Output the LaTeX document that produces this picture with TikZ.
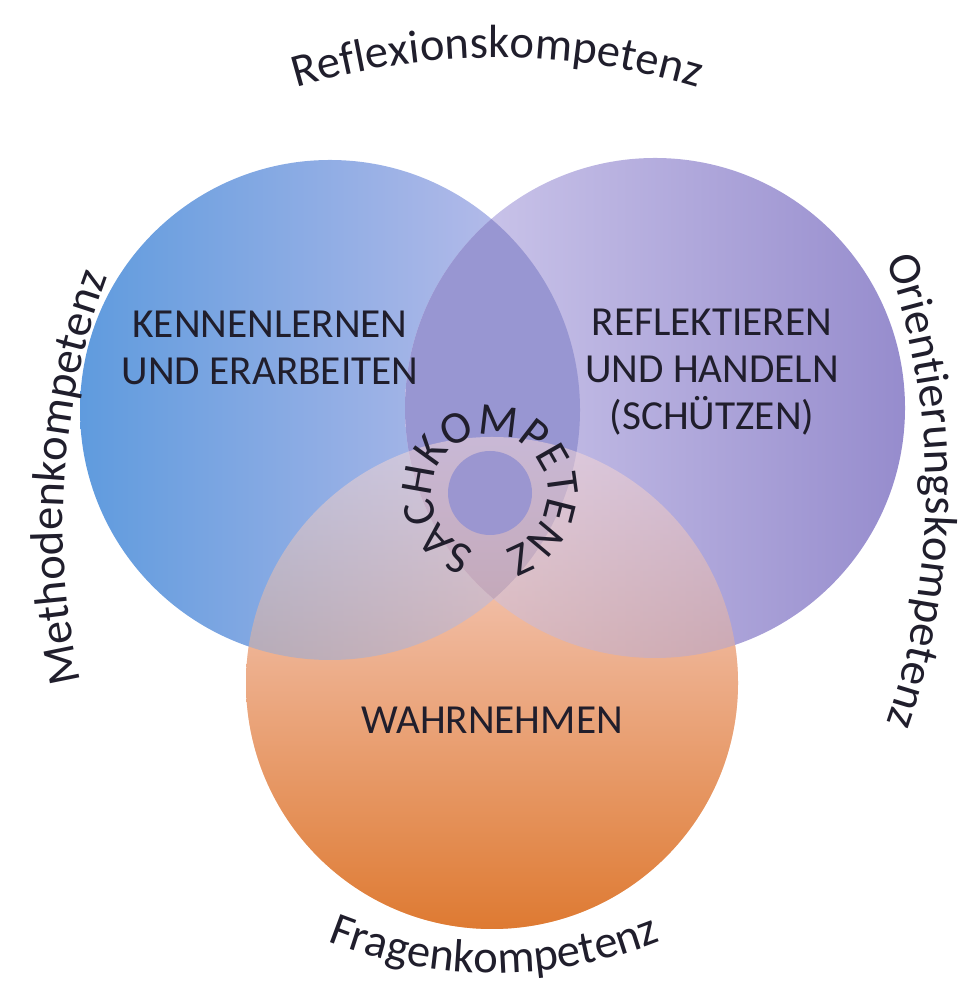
\documentclass[tikz,border=0pt]{standalone}
\usepackage{fontspec}
\setmainfont{Carlito}
\usetikzlibrary{decorations.text}

\definecolor{textdark}{RGB}{32,30,44}
\definecolor{kennleft}{RGB}{95,155,222}
\definecolor{kennright}{RGB}{195,192,235}
\definecolor{reflleft}{RGB}{210,205,238}
\definecolor{reflright}{RGB}{150,140,205}
\definecolor{lensfill}{RGB}{152,150,210}
\definecolor{wahrtop}{RGB}{250,220,218}
\definecolor{wahrmid}{RGB}{245,212,182}
\definecolor{wahrbot}{RGB}{222,122,50}
\definecolor{kernfill}{RGB}{155,150,208}

\newcommand\fieldfont{\fontsize{23.5}{26.7}\selectfont}
\newcommand\ringfont{\fontsize{26}{30}\selectfont\color{textdark}}
\newcommand\outerfont{\fontsize{26.5}{30}\selectfont\color{textdark}}

\tikzset{
  fieldtext/.style={align=center, font=\fieldfont, text=textdark, inner sep=0pt},
  bendtext/.style={decorate, decoration={text along path, text align=center, text={#1}}}
}

\begin{document}
\begin{tikzpicture}[x=0.2mm,y=0.2mm]
			%%%%% START %%%%%
			\def\rad{250}
			\def\radb{246}
			\def\xl{330}
			\def\yl{573}
			\def\xr{655}
			\def\yr{575}
			\def\xb{492}
			\def\yb{300}
			\def\xm{490}
			\def\ym{490}
			\def\rkern{42}
			\def\rring{58}
			\def\rout{700}
			
			\useasboundingbox (0,0) rectangle (968,983);
			
			% bottom circle first, fully coloured
			\shade[top color=wahrtop, middle color=wahrmid, bottom color=wahrbot] (\xb,\yb) circle (\radb);
			
			\shade[left color=kennleft, right color=kennright] (\xl,\yl) circle (\rad);
			\shade[left color=reflleft, right color=reflright] (\xr,\yr) circle (\rad);
			\begin{scope}
				\clip (\xl,\yl) circle (\rad);
				\fill[lensfill] (\xr,\yr) circle (\rad);
			\end{scope}
			
			% bottom circle again, see-through over the two others
			\shade[top color=wahrtop, middle color=wahrmid, bottom color=wahrbot, opacity=0.5] (\xb,\yb) circle (\radb);
			
			\fill[kernfill] (\xm,\ym) circle (\rkern);
			% ring text starts at the S and runs clockwise
			\path[decorate, decoration={text along path, text={|\ringfont|SACHKOMPETENZ}}] (\xm,\ym) ++(255:\rring) arc[start angle=255, end angle=-140, radius=\rring];
			
			\node[fieldtext] (kennen) at (270,635) {KENNENLERNEN\\UND ERARBEITEN};
			\node[fieldtext] (reflekt) at (712,611) {REFLEKTIEREN\\UND HANDELN\\(SCHÜTZEN)};
			\node[fieldtext] (wahr) at (492,263) {WAHRNEHMEN};
			
			% outer words
			\path[bendtext={|\outerfont|Reflexionskompetenz}] (497,225) ++(115:\rout) arc[start angle=115, end angle=65, radius=\rout];
			\path[bendtext={|\outerfont|Methodenkompetenz}] (763,460) ++(203:\rout) arc[start angle=203, end angle=149.5, radius=\rout];
			\path[bendtext={|\outerfont|Orientierungskompetenz}] (226,492) ++(25:\rout) arc[start angle=25, end angle=-25, radius=\rout];
			\path[bendtext={|\outerfont|Fragenkompetenz}] (494,460) ++(240:450) arc[start angle=240, end angle=300, radius=450];
			%%%%% END %%%%%
\end{tikzpicture}
\end{document}
